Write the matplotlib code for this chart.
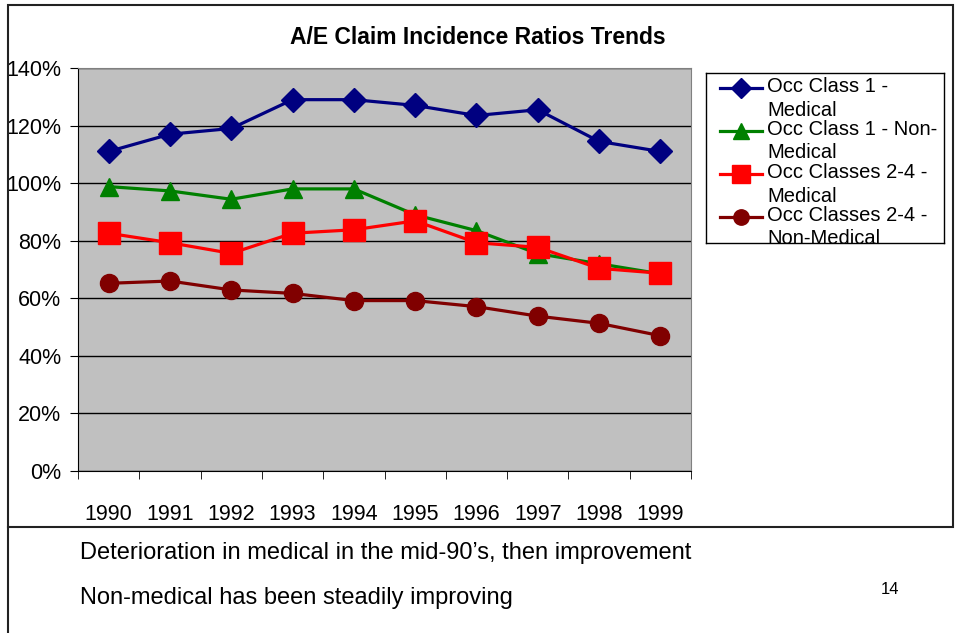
import matplotlib.pyplot as plt
import numpy as np
from matplotlib.lines import Line2D
from matplotlib.patches import Rectangle
from matplotlib.ticker import FixedLocator, PercentFormatter

plt.rcParams['font.family'] = ['Liberation Sans', 'DejaVu Sans']

years = ['1990', '1991', '1992', '1993', '1994', '1995', '1996', '1997', '1998', '1999']
occ1_med = [111, 117, 119, 129, 129, 127, 123.5, 125.5, 114.5, 111]
occ1_nonmed = [98.8, 97.3, 94.4, 98, 98, 89, 83.5, 75.5, 72, 68.5]
occ24_med = [82.6, 79.3, 75.6, 82.6, 83.8, 86.9, 79.3, 77.7, 70.4, 68.7]
occ24_nonmed = [65.2, 66, 62.9, 61.7, 59.2, 59.2, 57.1, 53.8, 51.3, 47]

series = [
    ("Occ Class 1 -\nMedical", occ1_med, '#000080', 'D', 12),
    ("Occ Class 1 - Non-\nMedical", occ1_nonmed, '#008000', '^', 13),
    ("Occ Classes 2-4 -\nMedical", occ24_med, '#FF0000', 's', 16),
    ("Occ Classes 2-4 -\nNon-Medical", occ24_nonmed, '#800000', 'o', 13),
]

W, H = 955, 633
fig = plt.figure(figsize=(9.55, 6.33), dpi=100)

def fx(px):
    return px / W

def fy(py):
    return 1 - py / H

ax = fig.add_axes([fx(78), fy(471), fx(691) - fx(78), fy(68) - fy(471)])
ax.set_facecolor('#C0C0C0')
x = np.arange(len(years))
for name, vals, col, mk, ms in series:
    ax.plot(x, vals, color=col, lw=2.3, marker=mk, ms=ms, mec=col, mfc=col)

ax.set_xlim(-0.5, len(years) - 0.5)
ax.set_ylim(0, 140)
ax.set_yticks(np.arange(0, 141, 20))
ax.yaxis.set_major_formatter(PercentFormatter(decimals=0))
ax.yaxis.grid(True, color='black', lw=1)
ax.set_axisbelow(True)
ax.set_xticks(x)
ax.set_xticklabels(years)
ax.xaxis.set_minor_locator(FixedLocator(np.arange(-0.5, len(years), 1)))
ax.tick_params(axis='x', which='major', length=0, pad=24, labelsize=15.5)
ax.tick_params(axis='x', which='minor', length=6, direction='out')
ax.tick_params(axis='y', length=6, direction='out', pad=6, labelsize=15.5)
ax.spines['top'].set_color('#808080')
ax.spines['right'].set_color('#808080')

fig.text(fx(478), fy(38), "A/E Claim Incidence Ratios Trends", ha='center', va='center',
         fontsize=16.5, fontweight='bold')

# legend box, last entry clipped like the original
lax = fig.add_axes([fx(706), fy(243), fx(944) - fx(706), fy(73) - fy(243)])
lax.set_xlim(0, 238)
lax.set_ylim(170, 0)
lax.set_xticks([])
lax.set_yticks([])
for s in lax.spines.values():
    s.set_color('black')
    s.set_linewidth(1)
for i, (name, vals, col, mk, ms) in enumerate(series):
    yy = 15 + 43 * i
    lax.plot([14, 56], [yy, yy], color=col, lw=2.3, clip_on=True)
    lax.plot([35], [yy], marker=mk, ms=ms * 0.85, color=col, clip_on=True)
    lax.text(61, yy - 11, name, fontsize=14.5, va='top', ha='left',
             linespacing=1.3, clip_on=True)

# chart frame and slide border
fig.add_artist(Rectangle((fx(8), fy(527)), fx(953) - fx(8), fy(5) - fy(527),
                         transform=fig.transFigure, fill=False, ec='#222222', lw=1.5))
fig.add_artist(Line2D([fx(8), fx(8)], [fy(527), 0], transform=fig.transFigure,
                      color='#222222', lw=1.5))

fig.text(fx(80), fy(553), "Deterioration in medical in the mid-90\u2019s, then improvement",
         fontsize=17, va='center', ha='left')
fig.text(fx(80), fy(598), "Non-medical has been steadily improving",
         fontsize=17, va='center', ha='left')
fig.text(fx(890), fy(590), "14", fontsize=12, va='center', ha='center')

fig.savefig("out.png", dpi=100)
